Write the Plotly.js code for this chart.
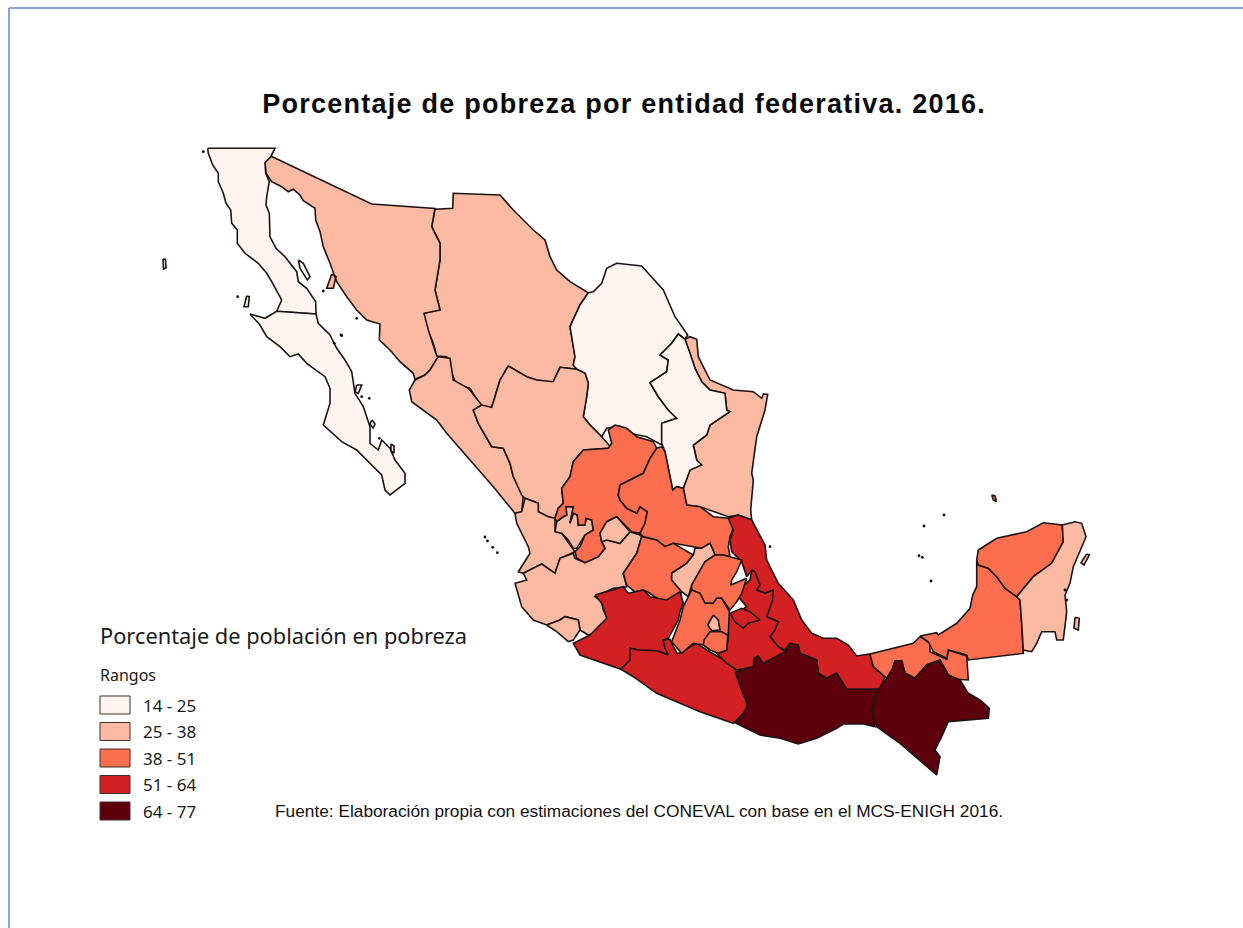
<!DOCTYPE html>
<html><head><meta charset="utf-8">
<script src="https://cdn.plot.ly/plotly-3.0.1.min.js"></script>
<style>html,body{margin:0;padding:0;background:#fff;overflow:hidden}</style></head>
<body><div id="chart" style="width:1243px;height:928px"></div>
<script>
// Bins and colours of the legend
const binLabels = ["14 - 25","25 - 38","38 - 51","51 - 64","64 - 77"];
const binUpper = [25,38,51,64,77];
const binColors = ["#fff5f0","#fdbaa2","#fc6e4d","#d32023","#5e000b"];
// Poverty share per state
const stateNames = ["Chihuahua","Sonora","Baja California","Baja California Sur","Coahuila","Sinaloa","Durango","Tamaulipas","Nuevo León","Nayarit","Jalisco","Zacatecas","Aguascalientes","San Luis Potosí","Colima","Guanajuato","Michoacán","Veracruz","Guerrero","Oaxaca","Puebla","Querétaro","Hidalgo","México","Tlaxcala","Ciudad de México","Morelos","Tabasco","Chiapas","Campeche","Yucatán","Quintana Roo"];
const statePoverty = [30.6,27.9,22.2,22.1,24.5,30.9,36.0,32.2,14.2,37.5,31.8,49.0,28.2,45.5,33.6,42.4,55.3,62.2,63.9,70.4,59.4,31.1,50.6,47.9,53.9,27.6,49.5,50.9,77.0,43.8,41.9,28.8];
// State outlines in map units
const chihuahua=[[[435,209.3],[452.7,208.3],[453.3,193.3],[500,195],[513.3,210],[533.3,230],[545,240],[550,256.7],[556.7,270],[570,281.7],[588.3,292.7],[580,305],[570,326.7],[575,356.7],[573.3,365],[576.7,369.3],[560,367.3],[553.3,381.7],[548.3,381.7],[536.7,380],[526.7,376.7],[508.3,366],[500,380],[495,396.7],[491.7,407.3],[481.7,407.3],[470,388.3],[456.7,385],[451.7,373.3],[446.7,356.7],[436.7,356],[433.3,343.3],[425,323.3],[424,313.3],[440,310],[435,290],[440,260],[440,243.3],[431.7,226.7]]];
const sonora=[[[270.7,156],[371.7,204],[435,208.5],[433.3,220],[431.7,226.7],[440,243.3],[440,260],[435,290],[440,310],[424,313.3],[428.3,330],[436.7,356],[438.3,356.7],[430,370],[425,375],[415,379.3],[413.3,373.3],[400,361.7],[390,350],[379.3,340],[380,324],[366.7,320],[356.7,310],[346.7,296.7],[336.7,281.7],[330,263.3],[323.3,246.7],[320,231.7],[315.7,220],[315,208.3],[303.3,200.7],[300,195],[293.3,189.3],[288.3,191.7],[281.7,186.7],[271.7,181.7],[266,173.3],[265,162.7]],[[331.7,274.3],[336,276.7],[333.3,288.3],[326.7,288.3]]];
const bajaCalifornia=[[[207.7,148.3],[275,148.3],[270.7,156.7],[265,162.7],[265.7,173.3],[269.3,181.7],[266.7,196.7],[266,205],[269.3,213.3],[270,236.7],[276,248.3],[285,256.7],[296.7,271.7],[298.3,281.7],[306.7,288.3],[315.7,301.7],[316,314],[276.7,311.3],[281.7,300],[278.3,293.3],[271.7,281.7],[266.7,273.3],[258.3,263.3],[245,253.3],[237.3,243.3],[237.3,230],[231.7,223.3],[230.7,210],[226,203.3],[223.3,193.3],[218.3,181.7],[218.3,173.3],[212.7,165],[208.3,153.3]],[[163,259],[165.5,259.5],[166,268],[163.5,269]],[[246.7,296],[249.3,296.7],[248.3,306.7],[244,306.7]],[[298.3,260],[303.3,263.3],[310,276.7],[307.3,280],[300,268.3]]];
const bajaCaliforniaSur=[[[250,314],[265,318.3],[276.7,311.3],[316,314],[318.3,323.3],[330,335],[336.7,348.3],[345,360],[351.7,371.7],[355,393.3],[363.3,406.7],[370,426.7],[370,443.3],[378.3,450],[381.7,440],[390,448.3],[395,460],[405,473.3],[405,483.3],[390,495],[385,490],[381.7,475],[370,463.3],[356.7,450],[341.7,441.7],[330,431.7],[323.3,425],[330,403.3],[330,388.3],[325,376.7],[306.7,363.3],[298.3,354],[290,356.7],[280,346.7],[266.7,336.7],[260,325]],[[356.7,385],[361.7,385],[358.3,393.3],[355,391.7]],[[372,420],[375,424],[373,428],[370,424]],[[391,444],[394,446],[394,453],[391,451]]];
const coahuila=[[[588.3,292.7],[593.3,291.7],[601.7,283.3],[606.7,268.3],[616.7,263.3],[641.7,266],[663.3,290],[675,316.7],[687.7,335],[685,339.3],[678.3,334],[671.7,343.3],[660,355],[668.3,360],[666.7,371.7],[650,382.7],[658.3,396.7],[668.3,410],[676.7,418.3],[661.7,423.3],[661.7,445],[646.7,436.7],[633.3,434],[620,426],[606.7,428.3],[601.7,436.7],[590,425],[583.3,416.7],[586.7,396.7],[588.3,383.3],[585,373.3],[576.7,369.3],[573.3,365],[575,356.7],[570,326.7],[580,305]]];
const sinaloa=[[[438.3,356.7],[450,358.3],[453.3,380],[468.3,388.3],[481.7,405],[473.3,410],[478.3,423.3],[491.7,446.7],[503.3,448.3],[510,463.3],[513.3,476.7],[525,493.3],[523.3,495],[521.7,511.7],[515,513.3],[493.3,486.7],[470,460],[446.7,433.3],[436.7,420],[411.7,401.7],[409.3,390],[415,380],[425,375],[430,370]]];
const durango=[[[508.3,366],[526.7,376.7],[536.7,380],[548.3,381.7],[553.3,381.7],[560,367.3],[576.7,369.3],[585,373.3],[588.3,383.3],[586.7,396.7],[583.3,416.7],[590,425],[601.7,436.7],[611.7,448.3],[608.3,448.3],[583.3,450],[573.3,461.7],[570,476.7],[561.7,488.3],[563.3,503.3],[558.3,508.3],[555,518.3],[548.3,516.7],[538.3,511.7],[538.3,503.3],[525,498.3],[521.7,495],[513.3,476.7],[510,463.3],[503.3,448.3],[491.7,446.7],[478.3,423.3],[473.3,410],[481.7,405],[491.7,407.3],[495,396.7],[500,380]]];
const tamaulipas=[[[685,339.3],[690,336.7],[696.7,339.3],[698.3,356.7],[710,380],[733.3,390],[753.3,391.7],[761.7,398.3],[763.3,394],[767.7,394.3],[765,410],[756.7,436.7],[751.7,473.3],[753.3,480],[750.7,510],[751.7,520],[738.3,515],[728.3,516.7],[700,506.7],[686.7,505],[683.3,488.3],[690,470],[700,463.3],[696.7,460],[693.3,445],[706.7,435],[710,425],[730,411.7],[726.7,410],[725,393.3],[710,390],[701.7,381.7],[695,368.3],[690,353.3]]];
const nuevoLeon=[[[678.3,334],[685,339.3],[690,353.3],[695,368.3],[701.7,381.7],[710,390],[725,393.3],[726.7,410],[730,411.7],[710,425],[706.7,435],[693.3,445],[696.7,460],[701.7,465],[690,470],[683.3,488.3],[676.7,486.7],[672.7,490],[670,476.7],[665,451.7],[661.7,443.3],[661.7,423.3],[676.7,418.3],[668.3,410],[658.3,396.7],[650,382.7],[666.7,371.7],[668.3,360],[660,355],[671.7,343.3]]];
const nayarit=[[[525,498.3],[538.3,503.3],[538.3,511.7],[548.3,516.7],[555,518.3],[555,531.7],[561.7,533.3],[573.3,548.3],[575,551.7],[560,558.3],[555,573.3],[541.7,564],[523.3,573.3],[518.3,571.7],[530,553.3],[528.3,546.7],[516.7,523.3],[515,513.3],[521.7,511.7]]];
const jalisco=[[[641.7,536.7],[636.7,553.3],[623.3,573.3],[626.7,586.7],[613.3,588.3],[595,596.7],[601.7,601.7],[603.3,610],[608.3,620],[593.3,633.3],[588.3,635],[580,630],[578.3,620],[565,616.7],[560,620],[546.7,625],[533.3,620],[521.7,606.7],[515,583.3],[526.7,580],[523.3,573.3],[541.7,564],[555,573.3],[560,558.3],[573.3,553.3],[575,558.3],[585,562.7],[598.3,556.7],[605,548.3],[601.7,541.7],[606.7,540],[620,543.3],[630,531.7],[640,535]],[[555,531.7],[556.7,521.7],[563.3,516.7],[566.7,515],[566,506.7],[573.3,506.7],[570,523.3],[573.3,513.3],[577.3,515],[578.3,525],[585,525],[586,518.3],[591.7,520],[593.3,530],[585,535],[576.7,548.3],[573.3,548.3],[568.3,540],[561.7,533.3]]];
const zacatecas=[[[615,425],[626.7,428.3],[636.7,436.7],[653.3,441.7],[656.7,448.3],[650,458.3],[643.3,473.3],[620,485],[618.3,495],[620,500],[626.7,508.3],[636.7,513.3],[640,506.7],[647.3,511.7],[645,523.3],[640,533.3],[631.7,531.7],[616.7,516.7],[606.7,521.7],[600,533.3],[601.7,541.7],[605,548.3],[598.3,556.7],[585,562.7],[576.7,558.3],[575,551.7],[580,546.7],[585,535],[593.3,530],[591.7,520],[586,518.3],[585,525],[578.3,525],[577.3,515],[573.3,513.3],[570,523.3],[573.3,506.7],[566,506.7],[566.7,515],[563.3,516.7],[556.7,521.7],[555,518.3],[558.3,508.3],[563.3,503.3],[561.7,488.3],[570,476.7],[573.3,461.7],[583.3,450],[608.3,448.3],[611.7,443.3],[608.3,430]]];
const aguascalientes=[[[600,533.3],[606.7,521.7],[616.7,516.7],[630,531.7],[620,543.3],[606.7,540],[601.7,541.7]]];
const sanLuisPotosi=[[[661.7,446.7],[665,451.7],[670,476.7],[672.7,490],[676.7,486.7],[683.3,488.3],[686.7,505],[700,506.7],[713.3,516.7],[728.3,518.3],[735,523.3],[730,536.7],[728.3,546.7],[730,556.7],[723.3,555],[715,555],[710,543.3],[701.7,548.3],[693.3,546.7],[673.3,543.3],[665,546.7],[656.7,540],[643.3,536.7],[640,533.3],[645,523.3],[647.3,511.7],[640,506.7],[636.7,513.3],[626.7,508.3],[620,500],[618.3,495],[620,485],[643.3,473.3],[650,458.3],[656.7,448.3]]];
const colima=[[[546.7,625],[560,620],[565,616.7],[578.3,620],[580,630],[573.3,640],[568.3,641.7],[556.7,631.7]]];
const guanajuato=[[[641.7,536.7],[656.7,540],[665,546.7],[673.3,543.3],[693.3,555],[686.7,563.3],[671.7,573.3],[671.7,580],[681.7,591.7],[676.7,601.7],[661.7,601.7],[650,593.3],[643.3,590],[636.7,593.3],[626.7,585],[623.3,573.3],[636.7,553.3]]];
const michoacan=[[[595,595],[623.3,586.7],[628.3,593.3],[643.3,590],[650,596.7],[666.7,600],[680,591.7],[683.3,603.3],[680,611.7],[678.3,620],[668.3,638.3],[663.3,640],[665,648.3],[668.3,655],[656.7,650.7],[638.3,650],[630,648.3],[630,660],[621,669.3],[603.3,663.3],[580,655],[573.3,643.3],[590,635],[606.7,618.3],[601.7,603.3]]];
const veracruz=[[[728.3,518.3],[738.3,515],[751.7,520],[756.7,530],[765,545],[766.7,560],[778.3,583.3],[793.3,600],[801.7,620],[811.7,633.3],[823.3,638.3],[836.7,638.3],[848.3,645],[856.7,656],[870,654],[873.3,666.7],[885,676.7],[880,689.3],[846.7,689.3],[836.7,673.3],[826.7,678.3],[818.3,673.3],[816.7,660],[800,653.3],[790,643.3],[785,650],[778.3,646.7],[770,636.7],[778.3,621.7],[766.7,616.7],[773.3,590],[765,593.3],[756.7,590],[751.7,570],[746.7,576.7],[741.7,561.7],[731.7,551.7],[730,540],[733.3,530]]];
const guerrero=[[[621,669.3],[630,660],[630,648.3],[638.3,650],[656.7,650.7],[668.3,655],[665,648.3],[663.3,640],[670,639.3],[677.3,654],[696.7,643.3],[706.7,650],[718.3,656.7],[735,668.3],[740,683.3],[748.3,708.3],[740,716.7],[733.3,723.3],[700,711.7],[656.7,693.3],[633.3,676.7]]];
const oaxaca=[[[735,671.7],[753.3,666.7],[754,658.3],[758.3,656],[763.3,663.3],[771.7,658.3],[785,651.7],[790,643.3],[798.3,645],[800,653.3],[816.7,660],[818.3,673.3],[826.7,678.3],[836.7,673.3],[846.7,689.3],[878.3,689.3],[871.7,711.7],[875,726.7],[863.3,724],[843.3,724],[836.7,728.3],[816.7,738.3],[798.3,744],[780,738.3],[760,735],[743.3,726.7],[735,722.7],[743.3,715],[747.7,703.3],[741.7,690],[738.3,680]]];
const puebla=[[[751.7,570],[755,571.7],[760,585],[756.7,590],[765,593.3],[773.3,590],[772.7,600],[766.7,616.7],[778.3,621.7],[775,630],[770,636.7],[778.3,646.7],[785,651.7],[771.7,658.3],[763.3,663.3],[758.3,656],[754,658.3],[753.3,666.7],[736.7,670],[726.7,663.3],[716.7,653.3],[726.7,650],[728.3,636.7],[728.3,615],[741.7,610],[746.7,606.7],[738.3,596.7],[740,588.3],[750,580]]];
const queretaro=[[[693.3,555],[695,548.3],[701.7,548.3],[710,543.3],[715,555],[705,561.7],[691.7,585],[688.3,596.7],[681.7,591.7],[671.7,580],[671.7,573.3],[686.7,563.3]]];
const hidalgo=[[[715,555],[723.3,555],[730,556.7],[741.7,560],[736.7,571.7],[731.7,580],[730.7,585],[746.7,578.3],[741.7,593.3],[736.7,601.7],[730,610],[721.7,598.3],[716.7,598.3],[713.3,603.3],[705,603.3],[700,593.3],[691.7,590],[691.7,585],[705,561.7]]];
const mexicoState=[[[688.3,596.7],[691.7,590],[700,593.3],[705,603.3],[713.3,603.3],[716.7,598.3],[721.7,598.3],[729.3,611.7],[728.3,633.3],[726.7,650],[718.3,653.3],[703.3,645],[693.3,643.3],[681.7,653.3],[671.7,641.7],[680,620],[683.3,606.7]]];
const tlaxcala=[[[730,613.3],[741.7,608.3],[750,611.7],[760,620],[748.3,623.3],[743.3,628.3],[735,621.7]]];
const cdmx=[[[713.3,615],[718.3,620],[720,630],[711.7,630.7],[707.7,625]]];
const morelos=[[[704,640],[710,631.7],[721.7,631.7],[727.7,635],[726.7,650],[718.3,653.3],[710,650],[703.3,645]]];
const tabasco=[[[870,654],[913.3,643.3],[920,636.7],[930,643.3],[930,651.7],[946.7,659.3],[948.3,650],[966.7,656],[968.3,680],[956.7,679.3],[948.3,675],[940,660],[926.7,665],[915,678.3],[905,673.3],[901.7,660.7],[895,660.7],[892.7,668.3],[886.7,678.3],[885,676.7],[873.3,666.7]]];
const chiapas=[[[878.3,689.3],[886.7,678.3],[892.7,668.3],[895,660.7],[901.7,660.7],[905,673.3],[915,678.3],[926.7,665],[940,660],[948.3,675],[960,680],[968.3,693.3],[980,700],[989.3,708.3],[988.3,718.3],[948.3,721.7],[941.7,736.7],[935,750],[940,756.7],[936.7,775],[923.3,763.3],[900,743.3],[876.7,726.7],[871.7,711.7]]];
const campeche=[[[920,636],[936.7,632.7],[938.3,635],[956.7,623.3],[970,608.3],[972.7,595],[976.7,586.7],[976.7,560],[978.3,565],[988.3,568.3],[996.7,576.7],[1005,588.3],[1016.7,596.7],[1020,600],[1021.7,623.3],[1023.3,653.3],[968.3,660],[966.7,655],[948.3,650],[946.7,658.3],[933.3,651.7],[928.3,641.7]]];
const yucatan=[[[978.3,550],[996.7,538.3],[1026.7,531.7],[1043.3,522.7],[1062.3,525],[1063.3,541.7],[1051.7,563.3],[1033.3,576.7],[1016.7,596.7],[1005,588.3],[996.7,576.7],[988.3,568.3],[978.3,565],[976.7,560]],[[991.7,495],[995,496],[996.7,501.7],[993.3,500]]];
const quintanaRoo=[[[1062.3,525],[1075,521.7],[1081.7,523.3],[1086,536.7],[1083.3,543.3],[1073.3,566.7],[1070,583.3],[1065,595],[1066.7,611.7],[1063.3,640],[1056.7,640],[1055,631.7],[1041.7,631.7],[1036.7,643.3],[1031.7,651.7],[1023.3,650],[1021.7,623.3],[1020,600],[1016.7,596.7],[1033.3,576.7],[1051.7,563.3],[1063.3,541.7]],[[1086.7,554],[1089.3,555],[1084,565],[1081,562.7]],[[1075,617.3],[1079.3,618.3],[1078.3,630],[1074,628.3]]];
const stateOutlines=[chihuahua,sonora,bajaCalifornia,bajaCaliforniaSur,coahuila,sinaloa,durango,tamaulipas,nuevoLeon,nayarit,jalisco,zacatecas,aguascalientes,sanLuisPotosi,colima,guanajuato,michoacan,veracruz,guerrero,oaxaca,puebla,queretaro,hidalgo,mexicoState,tlaxcala,cdmx,morelos,tabasco,chiapas,campeche,yucatan,quintanaRoo];
// Tiny islets
const isletX=[203.3,237.7,323.3,356.7,341.7,334.3,341,361.7,369.3,379.3,485,487.5,492.7,497.3,770,944,924,919,922.3,931,1066.7,1065];
const isletY=[151.7,296.7,291,318.3,335.7,343.3,335,396.7,398.3,438.3,537,541,547.3,552.7,546.7,515,526,555.7,557.3,581,600,590];
const legendTitle="Porcentaje de población en pobreza";
const legendSub="Rangos";
const chartTitle="Porcentaje de pobreza por entidad federativa. 2016.";
const sourceNote="Fuente: Elaboración propia con estimaciones del CONEVAL con base en el MCS-ENIGH 2016.";

const colorFor=v=>binColors[binUpper.findIndex(u=>v<=u)];
const traces=stateNames.map((name,i)=>{
  const xs=[],ys=[];
  stateOutlines[i].forEach(r=>{r.forEach(p=>{xs.push(p[0]);ys.push(p[1]);});xs.push(r[0][0]);ys.push(r[0][1]);xs.push(null);ys.push(null);});
  return {type:"scatter",mode:"lines",x:xs,y:ys,name:name,fill:"toself",fillcolor:colorFor(statePoverty[i]),line:{color:"#1c1414",width:1.6},hoverinfo:"name",showlegend:false,connectgaps:false};
});
traces.push({type:"scatter",mode:"markers",x:isletX,y:isletY,marker:{size:2.8,color:"#111"},hoverinfo:"skip",showlegend:false});

const ann=[];
const txt=(t,x,y,size,fam,color,extra)=>ann.push(Object.assign({text:t,x:x,y:y,xref:"x",yref:"y",showarrow:false,xanchor:"left",yanchor:"middle",font:{size:size,family:fam,color:color}},extra||{}));
const sans="Liberation Sans, Arial, sans-serif";
const leg="Noto Sans, sans-serif";
txt("<b>"+chartTitle+"</b>",291.5,104,27,sans,"#0a0a0a");
txt(sourceNote,273,811,17.3,sans,"#111");
txt(legendTitle,98,635,21.8,leg,"#1a1a1a");
txt(legendSub,98,675,16,leg,"#1a1a1a");
const shapes=[
 {type:"line",xref:"x",yref:"y",x0:9,x1:1243,y0:8,y1:8,line:{color:"#5b8ac6",width:1.5}},
 {type:"line",xref:"x",yref:"y",x0:9,x1:9,y0:8,y1:928,line:{color:"#5b8ac6",width:1.5}}
];
binLabels.forEach((l,i)=>{
  const top=696+i*26.5;
  shapes.push({type:"rect",xref:"x",yref:"y",x0:100,x1:130,y0:top,y1:top+18,fillcolor:binColors[i],line:{color:"#3a3030",width:1}});
  txt(l,141,top+9,17,leg,"#1a1a1a");
});
Plotly.newPlot("chart",traces,{
  width:1243,height:928,margin:{l:0,r:0,t:0,b:0},paper_bgcolor:"#fff",plot_bgcolor:"#fff",showlegend:false,
  xaxis:{range:[0,1243],visible:false,fixedrange:true},
  yaxis:{range:[928,0],visible:false,fixedrange:true},
  annotations:ann,shapes:shapes
},{displayModeBar:false,staticPlot:true}).then(()=>{
  const first=document.querySelector(".annotation-text");
  if(first) first.style.letterSpacing="1.25px";
});
</script></body></html>
